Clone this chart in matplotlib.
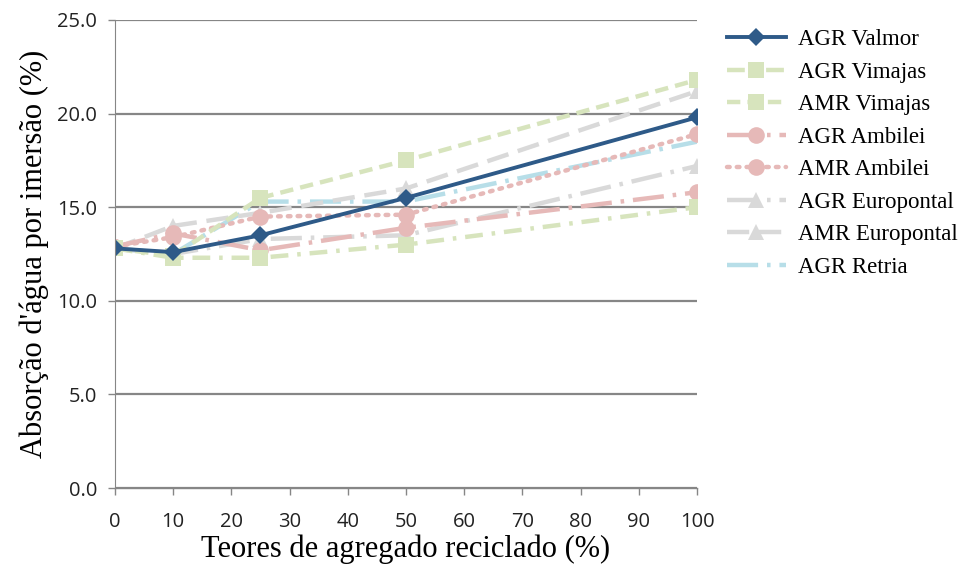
import matplotlib
matplotlib.use("Agg")
import matplotlib.pyplot as plt

teores = [0, 10, 25, 50, 100]

agr_valmor = [12.8, 12.6, 13.5, 15.5, 19.8]
agr_vimajas = [12.8, 12.3, 12.3, 13.0, 15.0]
amr_vimajas = [12.8, 12.4, 15.5, 17.5, 21.8]
agr_ambilei = [12.9, 13.6, 12.7, 13.9, 15.8]
amr_ambilei = [12.9, 13.4, 14.5, 14.6, 18.9]
agr_europontal = [12.8, 12.5, 13.3, 13.5, 17.2]
amr_europontal = [12.8, 14.0, 14.7, 16.0, 21.2]
agr_retria = [12.8, 12.5, 15.3, 15.3, 18.5]

blue = "#2E5A88"
green = "#D7E4BD"
pink = "#E6B9B8"
grey = "#D9D9D9"
lblue = "#B7DEE8"

series = [
    ("AGR Valmor", agr_valmor, blue, "-", "D", 2.8, 9),
    ("AGR Vimajas", agr_vimajas, green, (0, (4, 2, 0.8, 2)), "s", 3.2, 12),
    ("AMR Vimajas", amr_vimajas, green, (0, (3, 1.6)), "s", 3.2, 12),
    ("AGR Ambilei", agr_ambilei, pink, (0, (7, 2, 0.8, 2)), "o", 3.2, 12),
    ("AMR Ambilei", amr_ambilei, pink, (0, (0.6, 1.6)), "o", 3.2, 12),
    ("AGR Europontal", agr_europontal, grey, (0, (7, 2, 0.8, 2)), "^", 3.2, 12),
    ("AMR Europontal", amr_europontal, grey, (0, (5, 2.2)), "^", 3.2, 12),
    ("AGR Retria", agr_retria, lblue, (0, (7, 2, 0.8, 2)), None, 3.2, 0),
]

fig = plt.figure(figsize=(9.63, 5.68), dpi=100)
ax = fig.add_axes([0.1194, 0.1408, 0.6044, 0.824])

# draw the lighter series first so Valmor stays on top
for label, vals, color, ls, mk, lw, ms in reversed(series):
    ax.plot(teores, vals, color=color, linestyle=ls, marker=mk, linewidth=lw,
            markersize=ms, markeredgewidth=0, label=label,
            dash_capstyle="round" if label == "AMR Ambilei" else "butt")

ax.set_xlim(0, 100)
ax.set_ylim(0, 25)
ax.set_xticks(range(0, 101, 10))
ax.set_yticks([0, 5, 10, 15, 20, 25])
ax.set_yticklabels([f"{v:.1f}" for v in [0, 5, 10, 15, 20, 25]])
ax.yaxis.grid(True, color="#868686", linewidth=1.6)
ax.set_axisbelow(True)
for s in ["top", "right"]:
    ax.spines[s].set_visible(False)
ax.spines["left"].set_color("#868686")
ax.spines["bottom"].set_color("#868686")
ax.spines["bottom"].set_linewidth(1.0)
ax.tick_params(axis="both", colors="#868686", labelcolor="#222222",
               labelsize=14.5, length=5, width=1)
ax.tick_params(axis="x", pad=12)
ax.tick_params(axis="y", pad=8)
for t in ax.get_xticklabels() + ax.get_yticklabels():
    t.set_fontfamily("Open Sans")

ax.set_xlabel("Teores de agregado reciclado (%)", family="Liberation Serif",
              fontsize=22, labelpad=2)
ax.set_ylabel("Absorção d'água por imersão (%)", family="Liberation Serif",
              fontsize=22, labelpad=6)

handles, labels = ax.get_legend_handles_labels()
ax.legend(handles[::-1], labels[::-1], loc="upper left",
          bbox_to_anchor=(1.035, 1.0), frameon=False,
          prop={"family": "Liberation Serif", "size": 16.5},
          handlelength=2.6, labelspacing=0.5, handletextpad=0.5,
          borderaxespad=0.0)

fig.savefig("out.png", dpi=100)
